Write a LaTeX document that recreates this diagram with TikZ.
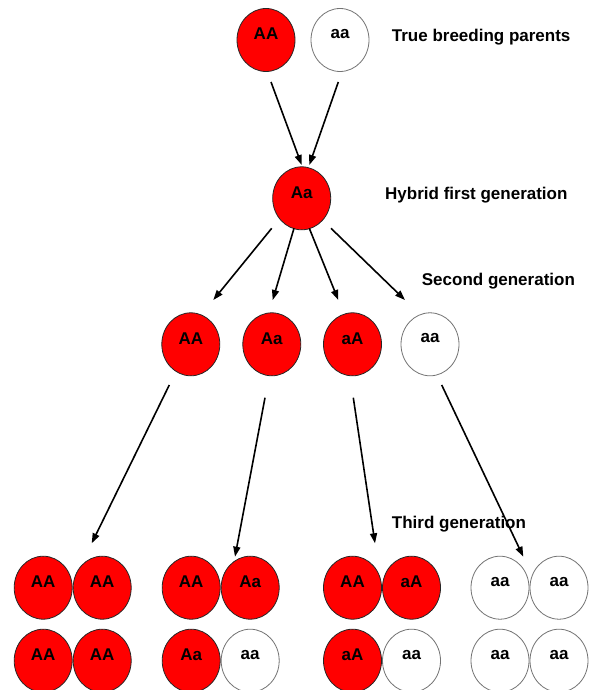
\documentclass[tikz,border=0pt]{standalone}
\usepackage{fontspec}
\setmainfont{Liberation Sans}
\usetikzlibrary{shapes.geometric,arrows.meta}
\definecolor{dom}{RGB}{255,0,0}
\tikzset{
  gene/.style={ellipse, minimum width=58pt, minimum height=63pt, inner sep=0pt,
    label={[font=\fontsize{17}{19}\selectfont\bfseries, yshift=6pt]center:#1}},
  red gene/.style={gene=#1, fill=dom, draw=black!85, line width=0.8pt},
  white gene/.style={gene=#1, fill=white, draw=black!55, line width=0.8pt},
  caption/.style={anchor=west, inner sep=0pt, font=\fontsize{17}{20}\selectfont\bfseries},
  cross/.style={line width=1.6pt, -{Triangle[length=10pt,width=7pt]}}
}
\begin{document}
\begin{tikzpicture}[x=1pt, y=-1pt]
\useasboundingbox (0,0) rectangle (589,690);

% parents
\node[red gene=AA]   (pAA) at (266,40) {};
\node[white gene=aa] (paa) at (340,40) {};
\node[caption] (tp) at (391.7,37) {True breeding parents};

% first generation
\node[red gene=Aa] (f1) at (301.7,198.3) {};
\node[caption] (tf) at (385,195) {Hybrid first generation};

% second generation
\node[red gene=AA]   (sAA) at (190.8,344.3) {};
\node[red gene=Aa]   (sAa) at (271.8,344.3) {};
\node[red gene=aA]   (saA) at (352.5,344.3) {};
\node[white gene=aa] (saa) at (430,344.3) {};
\node[caption] (ts) at (421.7,281) {Second generation};

% third generation
\node[caption] (tt) at (391.7,524) {Third generation};
\foreach \nm/\x/\a/\b/\c/\d/\ta/\tb/\tc/\td in {
  g1/43.2/red/red/red/red/AA/AA/AA/AA,
  g2/191.2/red/red/red/white/AA/Aa/Aa/aa,
  g3/352.5/red/red/red/white/AA/aA/aA/aa,
  g4/500/white/white/white/white/aa/aa/aa/aa}{
  \node[\a\space gene=\ta] (\nm a) at (\x,587.7) {};
  \node[\b\space gene=\tb] (\nm b) at (\x+59,587.7) {};
  \node[\c\space gene=\tc] (\nm c) at (\x,660.7) {};
  \node[\d\space gene=\td] (\nm d) at (\x+59,660.7) {};
}

% arrow end points
\coordinate (pAAo) at (271,82);    \coordinate (f1iL) at (301.7,165);
\coordinate (paao) at (338.3,82);  \coordinate (f1iR) at (309.3,165);
\coordinate (f1o1) at (271.7,228.3); \coordinate (sAAi) at (213.3,300);
\coordinate (f1o2) at (294,228.3);   \coordinate (sAai) at (272.7,300);
\coordinate (f1o3) at (309.3,228.3); \coordinate (saAi) at (338.3,300);
\coordinate (f1o4) at (331,228.3);   \coordinate (saai) at (405,300);
\coordinate (sAAo) at (169.3,385);   \coordinate (g1i) at (91.7,543.3);
\coordinate (sAao) at (265,397.7);   \coordinate (g2i) at (235,556.7);
\coordinate (saAo) at (353.3,397.7); \coordinate (g3i) at (375,543.3);
\coordinate (saao) at (441.7,385);   \coordinate (g4i) at (523.3,556.7);

\draw[cross] (pAAo) -- (f1iL);
\draw[cross] (paao) -- (f1iR);
\draw[cross] (f1o1) -- (sAAi);
\draw[cross] (f1o2) -- (sAai);
\draw[cross] (f1o3) -- (saAi);
\draw[cross] (f1o4) -- (saai);
\draw[cross] (sAAo) -- (g1i);
\draw[cross] (sAao) -- (g2i);
\draw[cross] (saAo) -- (g3i);
\draw[cross] (saao) -- (g4i);
\end{tikzpicture}
\end{document}
